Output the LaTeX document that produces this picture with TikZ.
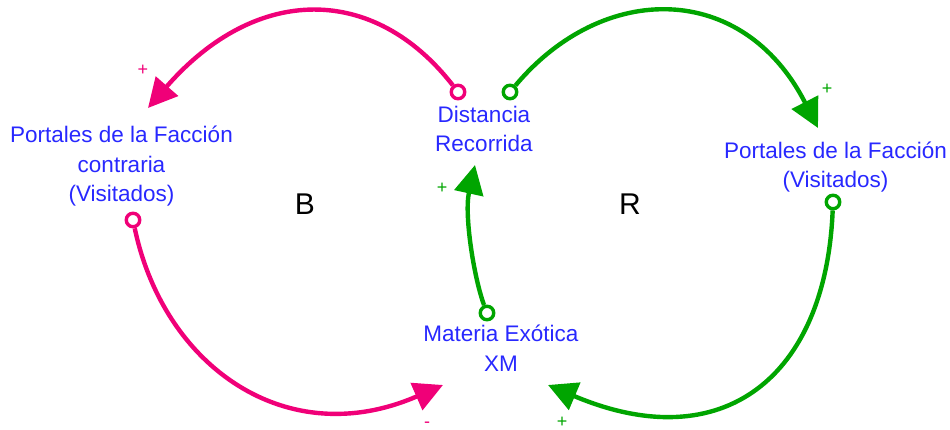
\documentclass[tikz,border=0pt]{standalone}
\usepackage{fontspec}
\setmainfont{Liberation Sans}
\usetikzlibrary{arrows.meta}
\definecolor{cldpink}{RGB}{240,0,120}
\definecolor{cldgreen}{RGB}{0,165,0}
\definecolor{cldblue}{RGB}{40,40,255}
\begin{document}
\begin{tikzpicture}[x=1pt,y=-1pt,
  var/.style={text=cldblue, font=\fontsize{22.5}{29.5}\selectfont, align=center, inner sep=0pt, anchor=base},
  loopname/.style={font=\fontsize{30}{36}\selectfont, inner sep=0pt},
  sign/.style={font=\fontsize{18}{20}\selectfont, inner sep=0pt},
  tail/.style={circle, draw=#1, fill=white, line width=3.4pt, minimum size=13.5pt, inner sep=0pt},
  link/.style={draw=#1, line width=4.4pt, -{Triangle[length=29pt,width=29pt]}},
]
\useasboundingbox (0,0) rectangle (950,430);
% variables (anchor = baseline of the last line)
\node[var] (pl) at (121.5,202) {Portales de la Facción\\contraria\\(Visitados)};
\node[var] (dr) at (484,152) {Distancia\\Recorrida};
\node[var] (pr) at (835.5,188) {Portales de la Facción\\(Visitados)};
\node[var] (mx) at (501,371) {Materia Exótica\\XM};
% loop labels
\node[loopname] (lb) at (305,204.5) {B};
\node[loopname] (lr) at (630,204.5) {R};
% link tails
\node[tail=cldpink] (t1) at (458,92) {};
\node[tail=cldpink] (t2) at (133,220) {};
\node[tail=cldgreen] (t3) at (510,92) {};
\node[tail=cldgreen] (t4) at (833,202) {};
\node[tail=cldgreen] (t5) at (487,313) {};
% link heads
\coordinate (h1) at (148,108);
\coordinate (h2) at (443,385);
\coordinate (h3) at (818,128);
\coordinate (h4) at (548,385);
\coordinate (h5) at (475,165);
% links
\draw[link=cldpink] (t1) .. controls (374,-16) and (256,-16) .. (h1);
\draw[link=cldpink] (t2) .. controls (164,367) and (287,453) .. (h2);
\draw[link=cldgreen] (t3) .. controls (603,-19) and (743,-19) .. (h3);
\draw[link=cldgreen] (t4) .. controls (826,377) and (723,459) .. (h4);
\draw[link=cldgreen] (t5) .. controls (474,278) and (464,215) .. (h5);
% polarities
\node[sign, text=cldpink] (s1) at (143,70) {+};
\node[sign, text=cldpink] (s2) at (427,425) {-};
\node[sign, text=cldgreen] (s3) at (827,89) {+};
\node[sign, text=cldgreen] (s4) at (562,422) {+};
\node[sign, text=cldgreen] (s5) at (442,188) {+};
\end{tikzpicture}
\end{document}
